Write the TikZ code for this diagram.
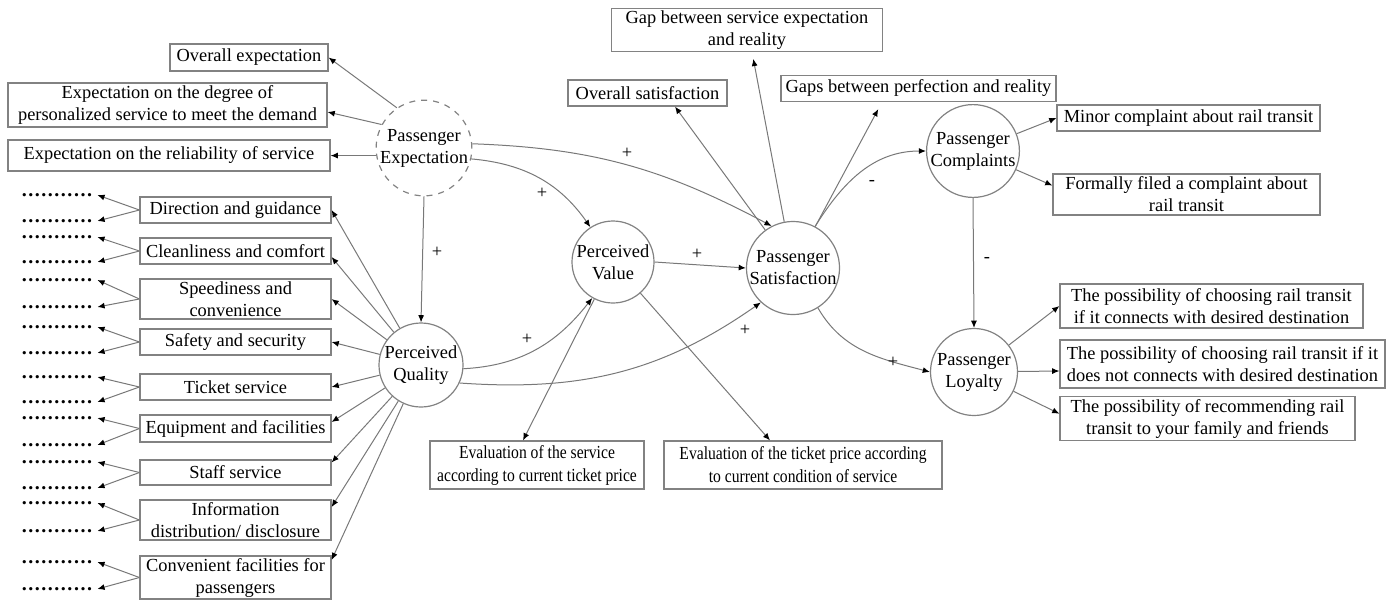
\documentclass[tikz,border=0pt]{standalone}
\usepackage{fontspec}
\setmainfont{Liberation Serif}
\newfontfamily\condserif[FakeStretch=0.85]{Liberation Serif}
\usetikzlibrary{arrows.meta,calc}
\definecolor{linegray}{RGB}{120,120,120}
\definecolor{boxgray}{RGB}{130,130,130}
\newcommand{\dotrow}{\hbox to 36pt{\xleaders\hbox to 3.05pt{\hss\textbf{.}\hss}\hfill}}
\tikzset{
  txt/.style={font=\fontsize{9.2pt}{11pt}\selectfont, text=black},
  box/.style={txt, draw=boxgray, line width=0.6pt, rectangle, align=center, inner sep=1pt},
  cbox/.style={box, font=\condserif\fontsize{9.2pt}{11.5pt}\selectfont},
  circ/.style={txt, draw=boxgray, line width=0.6pt, circle, align=center, inner sep=0pt},
  arr/.style={draw=linegray, line width=0.5pt, -{Latex[length=3.6pt,width=3pt,black]}},
  sign/.style={txt, inner sep=0pt},
  dots/.style={inner xsep=2pt, inner ysep=0pt},
}
\begin{document}
\begin{tikzpicture}[x=0.5pt,y=-0.5pt]
\useasboundingbox (0,0) rectangle (1392,601);
% circles
\node[circ, dashed, minimum size=47pt] (PE) at (424,148) {Passenger\\Expectation};
\node[circ, minimum size=42pt] (PQ) at (421,365) {Perceived\\Quality};
\node[circ, minimum size=41pt] (PV) at (613,262) {Perceived\\Value};
\node[circ, minimum size=46pt] (PS) at (793,268) {Passenger\\Satisfaction};
\node[circ, minimum size=46pt] (PC) at (973,151) {Passenger\\Complaints};
\node[circ, minimum size=43.5pt] (PL) at (974,372) {Passenger\\Loyalty};
% expectation boxes
\node[box, minimum width=79pt, minimum height=13.5pt] (OE) at (249,57.5) {Overall expectation};
\node[box, minimum width=159.5pt, minimum height=22pt] (EDeg) at (167.5,105) {Expectation on the degree of\\personalized service to meet the demand};
\node[box, minimum width=161pt, minimum height=15.5pt] (ERel) at (169,155.5) {Expectation on the reliability of service};
% quality boxes
\node[box, minimum width=95.5pt, minimum height=13pt] (Dir) at (235.5,210) {Direction and guidance};
\node[box, minimum width=95.5pt, minimum height=13pt] (Clean) at (235.5,251) {Cleanliness and comfort};
\node[box, minimum width=95.5pt, minimum height=20pt] (Speed) at (235.5,299) {Speediness and\\convenience};
\node[box, minimum width=95.5pt, minimum height=13pt] (Safe) at (235.5,342) {Safety and security};
\node[box, minimum width=95.5pt, minimum height=13pt] (Ticket) at (235.5,387) {Ticket service};
\node[box, minimum width=95.5pt, minimum height=13.5pt] (Equip) at (235.5,428.5) {Equipment and facilities};
\node[box, minimum width=95.5pt, minimum height=12.5pt] (Staff) at (235.5,472.5) {Staff service};
\node[box, minimum width=95.5pt, minimum height=20pt] (Info) at (235.5,520) {Information\\distribution/ disclosure};
\node[box, minimum width=95.5pt, minimum height=20.5pt] (Conv) at (235.5,577.5) {Convenient facilities for\\passengers};
% value boxes
\node[cbox, minimum width=107pt, minimum height=24pt] (ES) at (537,465) {Evaluation of the service\\according to current ticket price};
\node[cbox, minimum width=139pt, minimum height=24pt] (ET) at (803,465) {Evaluation of the ticket price according\\to current condition of service};
% satisfaction boxes
\node[box, minimum width=135.5pt, minimum height=21pt] (Gap) at (747,30) {Gap between service expectation\\and reality};
\node[box, minimum width=79.5pt, minimum height=13pt] (OS) at (647.5,93) {Overall satisfaction};
\node[box, minimum width=137.5pt, minimum height=13pt] (GP) at (918.5,88.5) {Gaps between perfection and reality};
% complaint boxes
\node[box, minimum width=131.5pt, minimum height=13pt] (Minor) at (1188.5,118) {Minor complaint about rail transit};
\node[box, minimum width=133.5pt, minimum height=20.5pt] (Form) at (1186.5,194.5) {Formally filed a complaint about\\rail transit};
% loyalty boxes
\node[box, minimum width=151.5pt, minimum height=22pt] (P1) at (1211.5,306) {The possibility of choosing rail transit\\if it connects with desired destination};
\node[box, minimum width=162.5pt, minimum height=24pt] (P2) at (1222.5,364) {The possibility of choosing rail transit if it\\does not connects with desired destination};
\node[box, minimum width=147.5pt, minimum height=22pt] (P3) at (1207.5,418.7) {The possibility of recommending rail\\transit to your family and friends};
% dot rows
\foreach \n/\ya/\yb in {Dir/195/221, Clean/237/262, Speed/280/307, Safe/327/353, Ticket/377/402, Equip/418/445, Staff/462/488, Info/503/531, Conv/562/589}{
  \node[dots] (\n a) at (57,\ya) {\dotrow};
  \node[dots] (\n b) at (57,\yb) {\dotrow};
  \draw[arr] (\n.west) -- (\n a.east);
  \draw[arr] (\n.west) -- (\n b.east);
}
% expectation edges
\draw[arr] (PE.124) -- (OE.east);
\draw[arr] (PE.151) -- ([yshift=-3.5pt]EDeg.east);
\draw[arr] (PE.189) -- (PE.189 -| ERel.east);
\draw[arr] (PE.south) -- (PQ.north);
\draw[arr] (PE.-13) to[out=-5,in=125] (PV.123);
\draw[arr] (PE.5) to[out=-2,in=152] (PS.117);
% quality edges
\draw[arr] (PQ) -- (Dir.east);
\draw[arr] (PQ) -- ([yshift=-3pt]Clean.east);
\draw[arr] (PQ) -- (Speed.east);
\draw[arr] (PQ) -- (Safe.east);
\draw[arr] (PQ) -- (Ticket.east);
\draw[arr] (PQ) -- ([yshift=3.25pt]Equip.east);
\draw[arr] (PQ) -- ([yshift=5pt]Staff.east);
\draw[arr] (PQ) -- ([yshift=6.5pt]Info.east);
\draw[arr] (PQ) -- ([yshift=8.75pt]Conv.east);
\draw[arr] (PQ.-5) to[out=3,in=232] (PV.240);
\draw[arr] (PQ.-25) to[out=-4,in=215] (PS.227);
% value edges
\draw[arr] (PV.east) -- (PS.west);
\draw[arr] (PV) -- ([xshift=-7pt]ES.north);
\draw[arr] (PV) -- ([xshift=-16.5pt]ET.north);
% satisfaction edges
\draw[arr] (PS) -- ([xshift=13.75pt]OS.south);
\draw[arr, shorten >=3.5pt] (PS) -- ([xshift=2.5pt]Gap.south);
\draw[arr, shorten >=4pt] (PS) -- ([xshift=-18.25pt]GP.south);
\draw[arr] (PS.62) to[out=58,in=180] (PC.west);
\draw[arr] (PS.-58) to[out=-60,in=165] (PL.west);
% complaints edges
\draw[arr] (PC) -- (Minor.west);
\draw[arr] (PC) -- ([yshift=4.5pt]Form.west);
\draw[arr] (PC.south) -- (PL.north);
% loyalty edges
\draw[arr] (PL) -- (P1.west);
\draw[arr] (PL) -- ([yshift=-3.5pt]P2.west);
\draw[arr] (PL) -- ([yshift=2.5pt]P3.west);
% signs
\node[sign] (s1) at (437,252) {+};
\node[sign] (s2) at (542,193) {+};
\node[sign] (s3) at (627,153) {+};
\node[sign] (s4) at (527,339) {+};
\node[sign] (s5) at (745,330) {+};
\node[sign] (s6) at (697,254) {+};
\node[sign] (s7) at (872,183) {-};
\node[sign] (s8) at (893,362) {+};
\node[sign] (s9) at (987,260) {-};
\end{tikzpicture}
\end{document}
